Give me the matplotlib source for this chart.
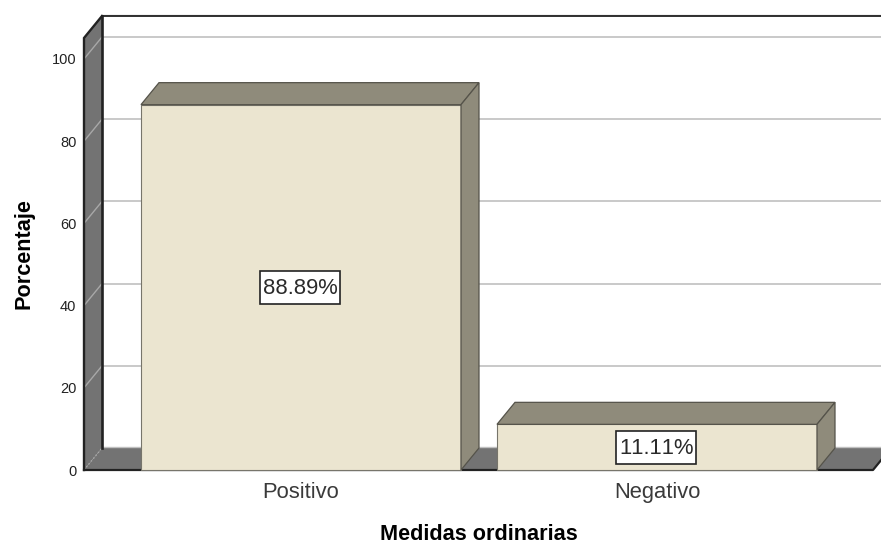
import matplotlib
matplotlib.use('Agg')
import matplotlib.pyplot as plt
from matplotlib.patches import Polygon, Rectangle

categories = ['Positivo', 'Negativo']
values = [88.89, 11.11]
labels = ['88.89%', '11.11%']
y_ticks = [0, 20, 40, 60, 80, 100]

plt.rcParams['font.family'] = ['Liberation Sans', 'DejaVu Sans']
plt.rcParams['text.kerning_factor'] = 10

W, H = 881, 545
fig = plt.figure(figsize=(W / 100, H / 100), dpi=100)
ax = fig.add_axes([84 / W, (H - 470) / H, (W - 84) / W, 432 / H])

# one category step is 356 px, one percent is 4.11 px
x_left = -217 / 356
x_right = 1 + 224 / 356
y_top = 432 / 4.11
dx = 18 / 356
dy = 22 / 4.11
floor_end = 1 + 216 / 356
bar_w = 320 / 356

ax.set_xlim(x_left, x_right)
ax.set_ylim(0, y_top)
ax.patch.set_visible(False)
for s in ax.spines.values():
    s.set_visible(False)

# back wall gridlines
for t in y_ticks[1:]:
    ax.plot([x_left + dx, x_right], [t + dy, t + dy], color='#c9c9c9', lw=1.4,
            zorder=1, clip_on=False, solid_capstyle='butt')

# left wall and floor
wall = [(x_left, 0), (x_left + dx, dy), (x_left + dx, y_top + dy), (x_left, y_top)]
ax.add_patch(Polygon(wall, closed=True, facecolor='#737373', edgecolor='none',
                     zorder=2, clip_on=False))
floor = [(x_left, 0), (x_left + dx, dy), (floor_end + dx, dy), (floor_end, 0)]
ax.add_patch(Polygon(floor, closed=True, facecolor='#737373', edgecolor='none',
                     zorder=2, clip_on=False))

# gridlines running across the wall
for t in y_ticks:
    ax.plot([x_left, x_left + dx], [t, t + dy], color='#a8a8a8', lw=1.0, zorder=3,
            clip_on=False, ls='-' if t else ':')

# wall and floor outlines
dark = '#222222'
ax.plot([x_left + dx, x_right], [y_top + dy + 0.3, y_top + dy + 0.3], color='#c4c4c4',
        lw=1.0, zorder=3, clip_on=False)
ax.plot([x_left, x_left, x_left + dx], [0, y_top, y_top + dy], color=dark, lw=1.7,
        zorder=4, clip_on=False, solid_joinstyle='miter')
ax.plot([x_left + dx, x_left + dx], [dy, y_top + dy], color=dark, lw=1.9, zorder=4,
        clip_on=False)
ax.plot([x_left + dx, x_right], [y_top + dy, y_top + dy], color=dark, lw=1.3, zorder=4,
        clip_on=False)
ax.plot([x_left + dx, x_right], [dy + 0.2, dy + 0.2], color='#c0c0c0', lw=1.0, zorder=3,
        clip_on=False)
ax.plot([x_left, floor_end, floor_end + dx], [0, 0, dy], color=dark, lw=1.6, zorder=4,
        clip_on=False)

# bars
positions = list(range(len(categories)))
ax.bar(positions, values, width=bar_w, color='#ebe5d0', edgecolor='#77756b',
       linewidth=0.8, zorder=5, clip_on=False)
box_w = 80 / 356
box_h = 33 / 4.11
for p, v, lab in zip(positions, values, labels):
    l, r = p - bar_w / 2, p + bar_w / 2
    edge = '#55534a'
    ax.add_patch(Polygon([(l, v), (l + dx, v + dy), (r + dx, v + dy), (r, v)], closed=True,
                         facecolor='#8f8b7b', edgecolor=edge, linewidth=0.9, zorder=5,
                         clip_on=False))
    ax.add_patch(Polygon([(r, 0), (r + dx, dy), (r + dx, v + dy), (r, v)], closed=True,
                         facecolor='#8f8b7b', edgecolor=edge, linewidth=0.9, zorder=5,
                         clip_on=False))
    ax.add_patch(Rectangle((p - box_w / 2 - 0.002, v / 2 - box_h / 2), box_w, box_h,
                           facecolor='white', edgecolor='#222222', linewidth=1.2, zorder=6))
    ax.annotate(lab, (p, v / 2), xytext=(-0.5, -1.2), textcoords='offset points', ha='center',
                va='center', fontsize=15.8, color='#2a2a2a', zorder=7)

ax.set_xticks(positions)
ax.set_xticklabels(categories, fontsize=15.8, color='#3a3a3a', va='baseline')
ax.set_yticks(y_ticks)
ax.tick_params(axis='x', length=0, pad=20.5)
ax.tick_params(axis='y', length=0, pad=5.5, labelsize=10.5, labelcolor='#222222')

fig.text(479 / W, 1 - 540.5 / H, 'Medidas ordinarias', ha='center', va='baseline',
         fontsize=15.6, fontweight='bold', color='black')
fig.text(29 / W, 1 - 253.5 / H, 'Porcentaje', ha='center', va='baseline', rotation=90,
         rotation_mode='anchor', fontsize=15.6, fontweight='bold', color='black')

fig.savefig('out.png', dpi=100)
